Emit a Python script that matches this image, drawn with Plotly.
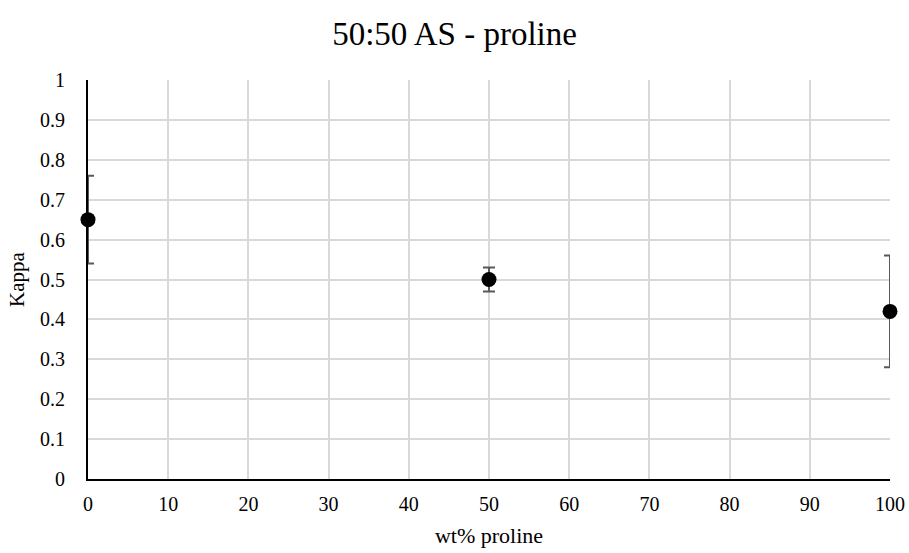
import plotly.graph_objects as go

# Kappa vs. proline loading for the 50:50 AS system
wt_proline = [0, 50, 100]
kappa = [0.65, 0.50, 0.42]
kappa_err = [0.11, 0.03, 0.14]

x_ticks = list(range(0, 101, 10))
y_ticks = [round(i * 0.1, 1) for i in range(11)]
y_labels = [f"{v:g}" for v in y_ticks]

serif = "Liberation Serif, Times New Roman, serif"

fig = go.Figure()

# error bars, clipped to the plotting area
fig.add_trace(
    go.Scatter(
        x=wt_proline,
        y=kappa,
        mode="markers",
        marker=dict(color="rgba(0,0,0,0)", size=1),
        error_y=dict(
            type="data",
            array=kappa_err,
            visible=True,
            color="#595959",
            thickness=2,
            width=6,
        ),
        cliponaxis=True,
        showlegend=False,
        hoverinfo="skip",
    )
)

# data points, drawn in full even on the axis edges
fig.add_trace(
    go.Scatter(
        x=wt_proline,
        y=kappa,
        mode="markers",
        marker=dict(color="black", size=15),
        cliponaxis=False,
        showlegend=False,
    )
)

axis_common = dict(
    showgrid=True,
    gridcolor="#d9d9d9",
    gridwidth=1.6,
    showline=True,
    linecolor="black",
    linewidth=2,
    zeroline=False,
    ticks="",
    automargin=False,
    layer="below traces",
    tickfont=dict(family=serif, size=20, color="black"),
)

fig.update_layout(
    width=909,
    height=553,
    margin=dict(l=88, r=19, t=80, b=74),
    paper_bgcolor="white",
    plot_bgcolor="white",
    font=dict(family=serif, color="black", size=20),
    title=dict(
        text="50:50 AS - proline",
        x=0.5,
        xanchor="center",
        y=1 - 33 / 553,
        yanchor="middle",
        font=dict(family=serif, size=33, color="black"),
    ),
    xaxis=dict(
        range=[0, 100],
        tickvals=x_ticks,
        ticktext=[str(v) for v in x_ticks],
        ticklabelstandoff=6,
        title=dict(text="wt% proline", font=dict(family=serif, size=22), standoff=14),
        **axis_common,
    ),
    yaxis=dict(
        range=[0, 1],
        tickvals=y_ticks,
        ticktext=y_labels,
        ticklabelstandoff=17,
        title=dict(text="Kappa", font=dict(family=serif, size=21), standoff=10),
        **axis_common,
    ),
)

fig.write_html("out.html")
